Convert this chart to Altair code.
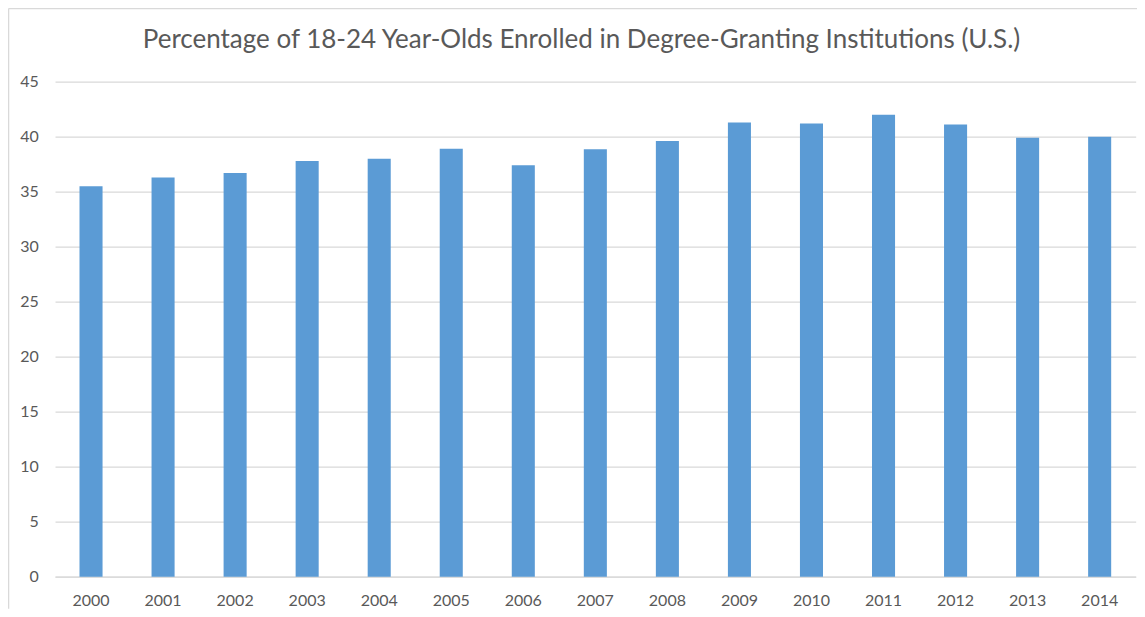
import altair as alt
import pandas as pd

years = ["2000", "2001", "2002", "2003", "2004", "2005", "2006", "2007",
         "2008", "2009", "2010", "2011", "2012", "2013", "2014"]
values = [35.5, 36.3, 36.7, 37.8, 38.0, 38.9, 37.4, 38.85,
          39.6, 41.3, 41.2, 42.0, 41.1, 39.9, 40.0]
y_ticks = [0, 5, 10, 15, 20, 25, 30, 35, 40, 45]
title_text = "Percentage of 18-24 Year-Olds Enrolled in Degree-Granting Institutions (U.S.)"
caption_text = "and universities increased moderately as Millennial students came of age."

W = 1080.7
H = 495
PAD = {"left": 47, "top": 73.7, "right": 1, "bottom": 32}

GRAY_TXT = "#595959"
GRID = "#D9D9D9"
FONT = "Lato"

df = pd.DataFrame({"year": years, "pct": values})

bars = alt.Chart(df).mark_bar(color="#5B9BD5").encode(
    x=alt.X(
        "year:N",
        sort=years,
        scale=alt.Scale(paddingInner=0.68, paddingOuter=0.34),
        axis=alt.Axis(
            title=None, labelAngle=0, ticks=False, domain=True,
            domainColor=GRID, domainWidth=1.3, labelPadding=16,
            labelFont=FONT, labelFontSize=16, labelColor=GRAY_TXT, grid=False,
        ),
    ),
    y=alt.Y(
        "pct:Q",
        scale=alt.Scale(domain=[0, 45], nice=False),
        axis=alt.Axis(
            title=None, values=y_ticks, ticks=False, domain=False,
            gridColor=GRID, gridWidth=1.3, labelPadding=16.7,
            labelFont=FONT, labelFontSize=16, labelColor=GRAY_TXT,
        ),
    ),
)

title_df = pd.DataFrame({"t": [title_text]})
title = alt.Chart(title_df).mark_text(
    font=FONT, fontSize=26, color=GRAY_TXT, align="center", baseline="alphabetic"
).encode(text="t:N", x=alt.value(526.5), y=alt.value(-33.4))

cap_df = pd.DataFrame({"t": [caption_text]})
caption = alt.Chart(cap_df).mark_text(
    font="Liberation Serif", fontSize=18, fontStyle="italic", color="#000000",
    align="center", baseline="alphabetic"
).encode(text="t:N", x=alt.value(470), y=alt.value(-80))

one = pd.DataFrame({"a": [0]})
left_border = alt.Chart(one).mark_rule(color=GRID, strokeWidth=1.3).encode(
    x=alt.value(-46.4), y=alt.value(-73.2), y2=alt.value(H + 32)
)
top_border = alt.Chart(one).mark_rule(color=GRID, strokeWidth=1.3).encode(
    x=alt.value(-46.4), x2=alt.value(W + 5), y=alt.value(-73.2)
)

chart = alt.layer(left_border, top_border, bars, title, caption).properties(
    width=W,
    height=H,
    padding=PAD,
    autosize=alt.AutoSizeParams(type="none"),
    background="white",
).configure_view(stroke=None)

chart.save("out.html", embed_options={"renderer": "svg", "actions": False})
